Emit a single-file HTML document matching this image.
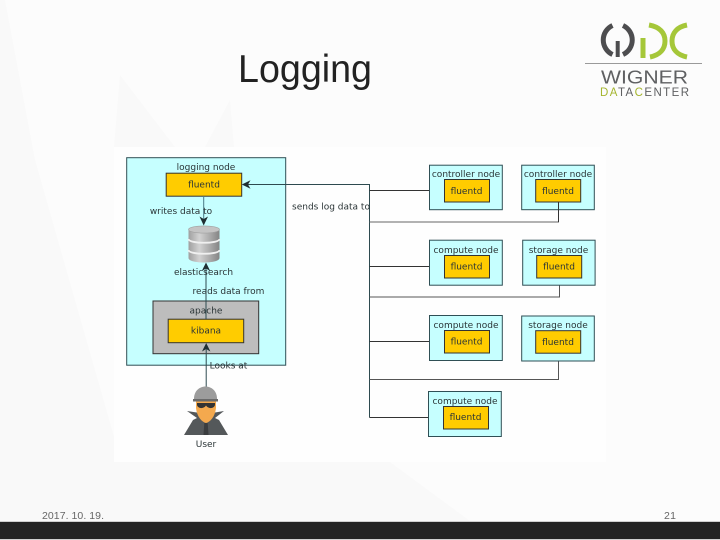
<!DOCTYPE html>
<html>
<head>
<meta charset="utf-8">
<style>
html,body{margin:0;padding:0;background:#fcfcfc;}
svg{display:block;}
text{font-family:"DejaVu Sans","Liberation Sans",sans-serif;}
.soft{filter:blur(.3px);}
</style>
</head>
<body>
<svg width="720" height="540" viewBox="0 0 720 540" xmlns="http://www.w3.org/2000/svg">
<defs>
<linearGradient id="cyl" x1="0" x2="1" y1="0" y2="0">
<stop offset="0" stop-color="#a0a0a0"/><stop offset=".35" stop-color="#d2d2d2"/><stop offset="1" stop-color="#858585"/>
</linearGradient>
</defs>
<rect width="720" height="540" fill="#fcfcfc"/>
<!-- background facets -->
<polygon points="0,0 5,0 35,160 115,440 390,462 470,521 0,521" fill="#f9f9f9"/>
<polygon points="120,75 114,147 175,147" fill="#f9f9f9"/>
<polygon points="230,100 205,147 234,147" fill="#f9f9f9"/>
<!-- diagram background -->
<rect x="114" y="147" width="492" height="315" fill="#fefefe"/>
<!-- title -->
<text x="238" y="82" font-size="39" fill="#222" style="font-family:'Liberation Sans',sans-serif" textLength="134" lengthAdjust="spacingAndGlyphs">Logging</text>
<!-- logo -->
<g class="soft">
<g fill="none" stroke="#4d4d4f" stroke-width="5">
<path d="M612.5 25.5 A16 16 0 0 0 612.5 54.5"/>
<path d="M623 25.5 A16 16 0 0 1 623 54.5"/>
<path d="M617.7 41 V57" stroke-width="4"/>
</g>
<g fill="none" stroke="#a5c739" stroke-width="5">
<path d="M643 38 V58"/>
<path d="M649 25 C660 27 665 33 665 41 C665 49 660 55 650 57"/>
<path d="M687 25 C677 27 672 33 672 41 C672 49 677 55 687 57"/>
</g>
</g>
<line x1="585" y1="63.5" x2="702" y2="63.5" stroke="#9a9a9a" stroke-width="1"/>
<text x="601" y="83.5" font-size="18" fill="#5f6062" style="font-family:'Liberation Sans',sans-serif" textLength="87" lengthAdjust="spacingAndGlyphs">WIGNER</text>
<text x="600" y="96" font-size="11.5" fill="#5f6062" style="font-family:'Liberation Sans',sans-serif" textLength="89" lengthAdjust="spacing"><tspan fill="#a5b52f">DA</tspan>TA<tspan fill="#a5b52f">C</tspan>ENTER</text>

<g class="soft">
<!-- logging node -->
<rect x="126.7" y="157.7" width="159" height="207.5" fill="#c6ffff" stroke="#2f4f55" stroke-width="1"/>
<rect x="153" y="301" width="105.7" height="52.7" fill="#bdbdbd" stroke="#333" stroke-width="1"/>
<rect x="166.2" y="173.2" width="75.5" height="23" fill="#ffcc00" stroke="#333" stroke-width="1"/>
<rect x="168.2" y="319.2" width="75.5" height="23.5" fill="#ffcc00" stroke="#333" stroke-width="1"/>

<!-- cylinder -->
<g>
<path d="M188.5 229 V258 C188.5 264 219.5 264 219.5 258 V229 Z" fill="url(#cyl)"/>
<ellipse cx="204" cy="229.5" rx="15.5" ry="3.6" fill="#c4c4c4" stroke="#a0a0a0" stroke-width=".6"/>
<path d="M188.5 239 C188.5 244 219.5 244 219.5 239" fill="none" stroke="#f0f0f0" stroke-width="1.8"/>
<path d="M188.5 250 C188.5 255 219.5 255 219.5 250" fill="none" stroke="#f0f0f0" stroke-width="1.8"/>
</g>

<!-- left arrows -->
<g stroke="#2d4a4f" stroke-width="1" fill="none">
<line x1="203.7" y1="196" x2="203.7" y2="222" stroke="#4a7a85"/>
<line x1="206" y1="319" x2="206" y2="266"/>
<line x1="206.2" y1="388" x2="206.2" y2="346"/>
<path d="M369.5 417.5 V184.5 H247"/>
</g>
<g fill="#1f2f33">
<polygon points="203.7,225.5 199.5,216.5 203.7,219 208,216.5"/>
<polygon points="206,262.5 201.8,271 206,268.5 210.2,271"/>
<polygon points="206.2,343 202,351.5 206.2,349 210.4,351.5"/>
<polygon points="241.8,184.5 250.5,180.3 248,184.5 250.5,188.7"/>
</g>

<!-- user -->
<g>
<path d="M184 435 L193 420 L197 418 L187 411 L200 413 L212 413 L224 411 L215 418 L219 420 L228 435 Z" fill="#54585a"/>
<path d="M196 398 H216 V408 C215 417 210 422 206 423 C202 422 197 417 196 408 Z" fill="#f4a94e"/>
<path d="M194 400 C193 382 218 382 217 400 Z" fill="#9c9c9c"/>
<rect x="193" y="399" width="25" height="2.5" fill="#6a6a6a"/>
<path d="M197 403 H215 V405 C214 409 208 409 206 405.5 C204 409 198 409 197 405 Z" fill="#333"/>
<path d="M204.3 423 H207.7 L208.5 435 H203.5 Z" fill="#3a3d3f"/>
</g>

<!-- right connectors -->
<g stroke="#333" stroke-width="1" fill="none">
<line x1="369.5" y1="190.5" x2="444.5" y2="190.5"/>
<path d="M369.5 222 H558.5 V202" stroke="#666"/>
<line x1="369.5" y1="266.5" x2="444.5" y2="266.5"/>
<path d="M369.5 297 H559.5 V277.5" stroke="#555"/>
<line x1="369.5" y1="341.5" x2="444.5" y2="341.5"/>
<path d="M369.5 379.5 H558.5 V353" stroke="#555"/>
<line x1="369.5" y1="417.5" x2="443.5" y2="417.5"/>
</g>

<!-- nodes -->
<g fill="#c6ffff" stroke="#2f4f55" stroke-width="1">
<rect x="429.5" y="165.2" width="72.8" height="44.5"/>
<rect x="521.7" y="165.2" width="72.6" height="44.5"/>
<rect x="429.5" y="240.2" width="72.8" height="45"/>
<rect x="522.7" y="240.2" width="72.4" height="45"/>
<rect x="429.5" y="315.5" width="72.8" height="45"/>
<rect x="521.7" y="316" width="72.6" height="45"/>
<rect x="428.5" y="391.5" width="72.8" height="45"/>
</g>
<g fill="#ffcc00" stroke="#333" stroke-width="1">
<rect x="444.5" y="179.5" width="45" height="22.5"/>
<rect x="535.7" y="179.5" width="45" height="22.5"/>
<rect x="444.5" y="255.5" width="45" height="22.5"/>
<rect x="536.7" y="255.5" width="45" height="22.5"/>
<rect x="444.5" y="330.5" width="45" height="22.5"/>
<rect x="535.7" y="330.7" width="45" height="22.5"/>
<rect x="443.5" y="406.5" width="45" height="22.5"/>
</g>
<!-- redraw connector drop into the lower node boxes -->
<g stroke="#333" stroke-width="1" fill="none">
<line x1="558.5" y1="202" x2="558.5" y2="222"/>
</g>

<!-- labels -->
<g font-size="9" fill="#2a3436" text-anchor="middle">
<text x="206" y="170">logging node</text>
<text x="204" y="187.5">fluentd</text>
<text x="181" y="214">writes data to</text>
<text x="203.5" y="275">elasticsearch</text>
<text x="228.5" y="294">reads data from</text>
<text x="206" y="313.5">apache</text>
<text x="206" y="333.5">kibana</text>
<text x="228.5" y="368.5">Looks at</text>
<text x="206" y="447">User</text>
<text x="331" y="209.5">sends log data to</text>

<text x="466" y="177">controller node</text>
<text x="558" y="177">controller node</text>
<text x="466" y="253">compute node</text>
<text x="558.5" y="253">storage node</text>
<text x="466" y="328">compute node</text>
<text x="558" y="328">storage node</text>
<text x="465" y="404">compute node</text>

<text x="466.5" y="194">fluentd</text>
<text x="558" y="194">fluentd</text>
<text x="466.5" y="269.5">fluentd</text>
<text x="559" y="269.5">fluentd</text>
<text x="466.5" y="344.5">fluentd</text>
<text x="558" y="345">fluentd</text>
<text x="465.5" y="420">fluentd</text>
</g>
</g>

<!-- footer -->
<text x="42" y="519" font-size="10.5" fill="#666" style="font-family:'Liberation Sans',sans-serif" textLength="62">2017. 10. 19.</text>
<text x="664" y="519" font-size="10.5" fill="#666" style="font-family:'Liberation Sans',sans-serif" textLength="12">21</text>
<rect x="0" y="521" width="720" height="1" fill="#cfcfcf"/>
<rect x="0" y="522" width="720" height="17" fill="#232323"/>
<rect x="0" y="539" width="720" height="1" fill="#cfcfcf"/>
</svg>
</body>
</html>
